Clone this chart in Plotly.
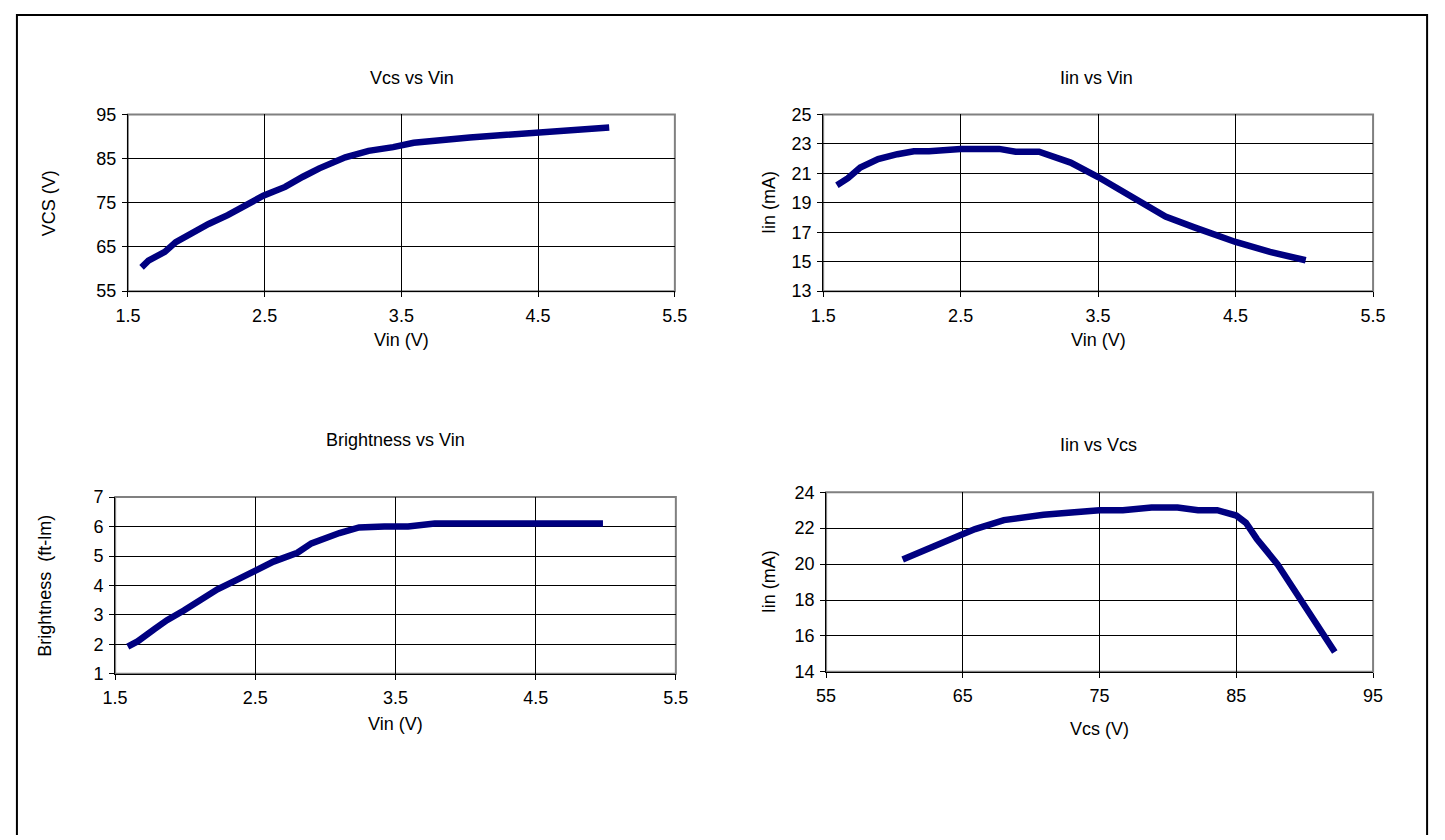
import plotly.graph_objects as go

W, H = 1445, 840

# ---------------- data ----------------
vin_a = [1.60, 1.65, 1.77, 1.85, 2.09, 2.23, 2.49, 2.65, 2.78, 2.90, 3.09, 3.26, 3.44, 3.59, 4.00, 4.51, 5.02]
vcs_a = [60.4, 61.9, 63.9, 66.1, 70.2, 72.2, 76.6, 78.6, 80.9, 82.8, 85.3, 86.75, 87.6, 88.6, 89.8, 91.0, 92.05]

vin_b = [1.60, 1.68, 1.77, 1.90, 2.04, 2.16, 2.27, 2.50, 2.78, 2.90, 3.07, 3.12, 3.22, 3.30, 3.50, 3.68,
         3.84, 3.99, 4.20, 4.39, 4.50, 4.75, 5.01]
iin_b = [20.2, 20.67, 21.4, 21.97, 22.3, 22.5, 22.5, 22.66, 22.66, 22.47, 22.47, 22.3, 22.06, 21.73, 20.75,
         19.76, 18.77, 18.06, 17.33, 16.67, 16.34, 15.67, 15.1]

vin_c = [1.59, 1.66, 1.78, 1.87, 1.99, 2.11, 2.23, 2.35, 2.50, 2.63, 2.80, 2.90, 3.10, 3.24, 3.42, 3.59,
         3.78, 4.15, 4.98]
bright_c = [1.92, 2.1, 2.52, 2.82, 3.15, 3.54, 3.87, 4.15, 4.48, 4.81, 5.11, 5.43, 5.78, 5.97, 6.0, 6.0,
            6.1, 6.1, 6.1]

vcs_d = [60.6, 62.6, 64.8, 65.9, 68.0, 70.9, 75.0, 76.7, 78.8, 80.7, 82.2, 83.6, 85.0, 85.7, 86.5, 88.0,
         89.7, 92.2]
iin_d = [20.25, 20.85, 21.6, 21.95, 22.45, 22.75, 23.0, 23.0, 23.15, 23.15, 23.0, 23.0, 22.7, 22.3, 21.4,
         20.0, 18.0, 15.1]

titles = ["Vcs vs Vin", "Iin vs Vin", "Brightness vs Vin", "Iin vs Vcs"]
x_titles = ["Vin (V)", "Vin (V)", "Vin (V)", "Vcs (V)"]
y_titles = ["VCS (V)", "Iin (mA)", "Brightness \u00a0(ft-lm)", "Iin (mA)"]
x_ranges = [[1.5, 5.5], [1.5, 5.5], [1.5, 5.5], [55, 95]]
x_steps = [1, 1, 1, 10]
y_ranges = [[55, 95], [13, 25], [1, 7], [14, 24]]
y_steps = [10, 2, 1, 2]
# ----------------------------------------------------------------

def px(x):
    return x / W

def py(y):
    return 1 - y / H

FONT = "Liberation Sans, Arial, sans-serif"
LINE_COLOR = "#000080"

series = [(vin_a, vcs_a), (vin_b, iin_b), (vin_c, bright_c), (vcs_d, iin_d)]
# plot-area boxes in pixels: (left, right, top, bottom)
boxes = [(117, 674, 107, 288), (825, 1385, 107, 288), (104, 675, 499, 680), (828, 1385, 494, 678)]
title_pos = [(406, 70), (1103, 70), (389, 440), (1105, 446)]
xtitle_y = [338, 338, 731, 737]
ytitle_x = [36, 770, 33, 770]

fig = go.Figure()
shapes = []
annotations = []

for i in range(4):
    n = "" if i == 0 else str(i + 1)
    L, R, T, B = boxes[i]
    xs, ys = series[i]
    fig.add_trace(go.Scatter(
        x=xs, y=ys, mode="lines", xaxis="x" + n, yaxis="y" + n,
        line=dict(color=LINE_COLOR, width=6.5), showlegend=False, hoverinfo="x+y"))

    axis_common = dict(
        showline=True, linecolor="black", linewidth=1,
        ticks="outside", ticklen=5, tickcolor="black", tickwidth=1,
        showgrid=True, gridcolor="black", gridwidth=1,
        zeroline=False, fixedrange=True,
        tickfont=dict(family=FONT, size=18, color="black"),
    )
    fig.update_layout(**{
        "xaxis" + n: dict(axis_common, domain=[px(L), px(R)], anchor="y" + n,
                          range=x_ranges[i], tick0=x_ranges[i][0], dtick=x_steps[i],
                          ticklabelstandoff=3),
        "yaxis" + n: dict(axis_common, domain=[py(B), py(T)], anchor="x" + n,
                          range=y_ranges[i], tick0=y_ranges[i][0], dtick=y_steps[i],
                          ticklabelstandoff=2),
    })

    # grey plot-area border (top/right visible grey, left/bottom overdrawn by black axes)
    shapes.append(dict(type="rect", xref="paper", yref="paper",
                       x0=px(L), x1=px(R), y0=py(B), y1=py(T),
                       line=dict(color="#808080", width=2), layer="between"))

    tx, ty = title_pos[i]
    annotations.append(dict(text=titles[i], x=px(tx), y=py(ty), xref="paper", yref="paper",
                            xanchor="center", yanchor="middle", showarrow=False,
                            font=dict(family=FONT, size=18, color="black")))
    annotations.append(dict(text=x_titles[i], x=px((L + R) / 2), y=py(xtitle_y[i]),
                            xref="paper", yref="paper", xanchor="center", yanchor="middle",
                            showarrow=False, font=dict(family=FONT, size=18, color="black")))
    annotations.append(dict(text=y_titles[i], x=px(ytitle_x[i]), y=py((T + B) / 2),
                            xref="paper", yref="paper", xanchor="center", yanchor="middle",
                            textangle=-90, showarrow=False,
                            font=dict(family=FONT, size=18, color="black")))

# outer frame: left, top and right edges only (bottom edge is not visible in the reference)
fx0, fx1, fy0, fy1 = px(4), px(1440), py(845), py(5)
shapes.append(dict(type="path", xref="paper", yref="paper",
                   path=f"M {fx0},{fy0} L {fx0},{fy1} L {fx1},{fy1} L {fx1},{fy0}",
                   line=dict(color="black", width=2), layer="above"))

fig.update_layout(
    width=W, height=H,
    margin=dict(l=0, r=0, t=0, b=0),
    paper_bgcolor="white", plot_bgcolor="white",
    shapes=shapes, annotations=annotations,
    showlegend=False,
)

fig.write_html("out.html", config={"displayModeBar": False},
               post_script="document.body.style.margin='0px';document.body.style.overflow='hidden';")
